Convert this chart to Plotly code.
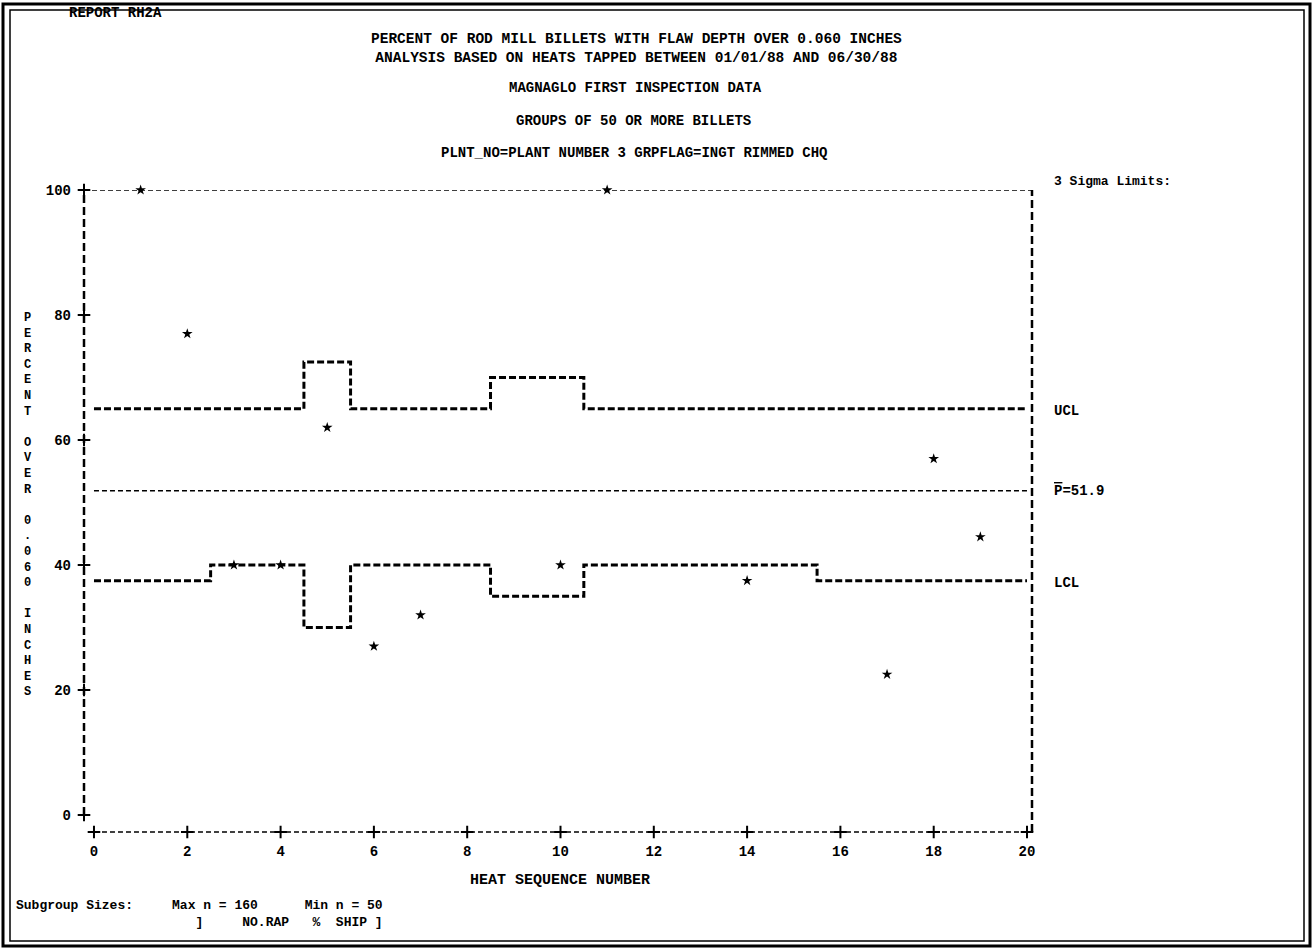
import plotly.graph_objects as go

# ---------------- data ----------------
heats = list(range(0, 21))
ucl = [65, 65, 65, 65, 65, 72.5, 65, 65, 65, 70, 70, 65, 65, 65, 65, 65, 65, 65, 65, 65, 65]
lcl = [37.5, 37.5, 37.5, 40, 40, 30, 40, 40, 40, 35, 35, 40, 40, 40, 40, 40, 37.5, 37.5, 37.5, 37.5, 37.5]
pbar = 51.9
pt_heat = [1, 2, 3, 4, 5, 6, 7, 10, 11, 14, 17, 18, 19]
pt_pct = [100, 77, 40, 40, 62, 27, 32, 40, 100, 37.5, 22.5, 57, 44.5]
x_ticks = [0, 2, 4, 6, 8, 10, 12, 14, 16, 18, 20]
y_ticks = [0, 20, 40, 60, 80, 100]
n_max, n_min = 160, 50

# ---------------- layout geometry ----------------
W, H = 1314, 950
L, R, T, B = 84, 282, 190, 118
PW, PH = W - L - R, H - T - B
XR = [-0.214, 20.107]
YR = [-2.72, 100]
FONT = "Liberation Mono, Courier New, monospace"
NB = "\u00a0"


def px(x):
    return (x - L) / PW


def py(y):
    return (H - B - y) / PH


fig = go.Figure()

# center line
fig.add_trace(go.Scatter(x=[heats[0], heats[-1]], y=[pbar, pbar], mode="lines",
                         line=dict(color="black", width=1.5, dash="5px,3px"),
                         hoverinfo="skip"))
# UCL / LCL step lines
for lim in (ucl, lcl):
    fig.add_trace(go.Scatter(x=heats, y=lim, mode="lines", line_shape="hvh",
                             line=dict(color="black", width=3, dash="7px,3px"),
                             hoverinfo="skip"))
# data points
fig.add_trace(go.Scatter(x=pt_heat, y=pt_pct, mode="markers", cliponaxis=False,
                         marker=dict(symbol="star", size=8, color="black")))
# "+" tick marks
fig.add_trace(go.Scatter(x=x_ticks, y=[YR[0]] * len(x_ticks), mode="markers", cliponaxis=False,
                         marker=dict(symbol="cross-thin", size=9, line=dict(color="black", width=2)),
                         hoverinfo="skip"))
fig.add_trace(go.Scatter(x=[XR[0]] * len(y_ticks), y=y_ticks, mode="markers", cliponaxis=False,
                         marker=dict(symbol="cross-thin", size=9, line=dict(color="black", width=2)),
                         hoverinfo="skip"))

shapes = []
# top frame dashed line (at 100)
shapes.append(dict(type="line", xref="paper", yref="y", x0=0, x1=1, y0=100, y1=100,
                   line=dict(color="black", width=1.5, dash="5px,3px")))
# bottom axis dashed line
shapes.append(dict(type="line", xref="x", yref="paper", x0=0, x1=XR[1], y0=0, y1=0,
                   line=dict(color="black", width=1.5, dash="5px,3px")))
# left / right bracket columns
shapes.append(dict(type="line", xref="paper", yref="y", x0=0, x1=0, y0=0, y1=100,
                   line=dict(color="black", width=2.5, dash="8px,4px")))
shapes.append(dict(type="line", xref="paper", yref="paper", x0=1, x1=1, y0=0, y1=1,
                   line=dict(color="black", width=2.5, dash="8px,4px")))
# page border (double)
shapes.append(dict(type="rect", xref="paper", yref="paper", x0=px(3), x1=px(1310),
                   y0=py(946), y1=py(4), line=dict(color="black", width=3)))
shapes.append(dict(type="rect", xref="paper", yref="paper", x0=px(10), x1=px(1304),
                   y0=py(941), y1=py(10), line=dict(color="black", width=1.5)))

annotations = []


def ann(text, x, y, xanchor="left", size=14, yanchor="middle", align="center"):
    annotations.append(dict(text=text, x=px(x), y=py(y), xref="paper", yref="paper",
                            xanchor=xanchor, yanchor=yanchor, showarrow=False, align=align,
                            font=dict(family=FONT, size=size, color="black")))


ann("<b>REPORT RH2A</b>", 67, 13, size=14)
ann("<b>PERCENT OF ROD MILL BILLETS WITH FLAW DEPTH OVER 0.060 INCHES</b><br>"
    "<b>ANALYSIS BASED ON HEATS TAPPED BETWEEN 01/01/88 AND 06/30/88</b>", 636, 48.5, "center", 14.5)
ann("<b>MAGNAGLO FIRST INSPECTION DATA</b>", 635, 88, "center", 14)
ann("<b>GROUPS OF 50 OR MORE BILLETS</b>", 633, 121, "center", 14)
ann("<b>PLNT_NO=PLANT NUMBER 3 GRPFLAG=INGT RIMMED CHQ</b>", 634, 153, "center", 14)
ann("<b>3 Sigma Limits:</b>", 1052, 181, size=13)
ann("<b>UCL</b>", 1052, 411, size=14)
ann(f"<b><span style='text-decoration:overline'>P</span>={pbar}</b>", 1052, 491, size=14)
ann("<b>LCL</b>", 1052, 583, size=14)
ann("<b>HEAT SEQUENCE NUMBER</b>", 560, 880, "center", 15)

line1 = "Subgroup Sizes:" + NB * 5 + f"Max n = {n_max}" + NB * 6 + f"Min n = {n_min}"
line2 = NB * 23 + "]" + NB * 5 + "NO.RAP" + NB * 3 + "%" + NB * 2 + "SHIP ]"
ann("<b>" + line1.replace(" ", NB) + "</b><br><b>" + line2.replace(" ", NB) + "</b>",
    14, 914.5, size=13, align="left")

ylab = "<br>".join((c if c != " " else NB) for c in "PERCENT OVER 0.060 INCHES")
ann("<b>" + ylab + "</b>", 28, 505, "center", size=12)

fig.update_layout(
    width=W, height=H,
    margin=dict(l=L, r=R, t=T, b=B, autoexpand=False),
    paper_bgcolor="white", plot_bgcolor="white",
    showlegend=False,
    shapes=shapes, annotations=annotations,
    font=dict(family=FONT, color="black"),
    xaxis=dict(range=XR, showgrid=False, zeroline=False, showline=False,
               tickmode="array", tickvals=x_ticks, ticktext=[f"<b>{v}</b>" for v in x_ticks],
               ticks="", ticklabelstandoff=9, tickfont=dict(family=FONT, size=14)),
    yaxis=dict(range=YR, showgrid=False, zeroline=False, showline=False,
               tickmode="array", tickvals=y_ticks, ticktext=[f"<b>{v}</b>" for v in y_ticks],
               ticks="", ticklabelstandoff=12, tickfont=dict(family=FONT, size=14)),
)

fig.write_html("out.html", config={"displayModeBar": False},
               post_script="document.body.style.margin='0';document.body.style.padding='0';"
                           "document.body.style.overflow='hidden';")
